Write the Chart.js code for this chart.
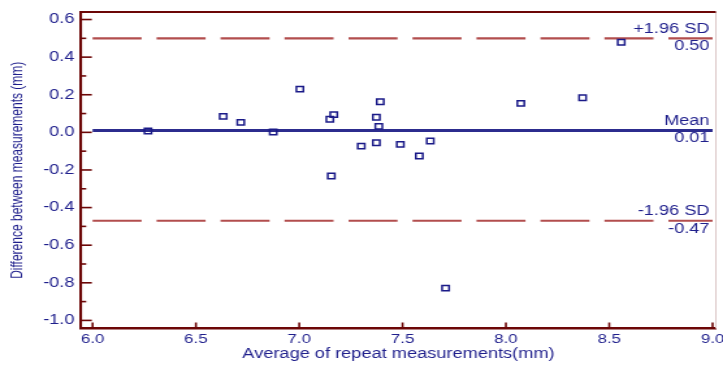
<!DOCTYPE html>
<html>
<head>
<meta charset="utf-8">
<script src="https://cdn.jsdelivr.net/npm/chart.js@4"></script>
<style>
  html, body { margin: 0; padding: 0; background: #fff; overflow: hidden; }
  /* the original picture is stretched sideways, so the chart is drawn narrow and widened */
  #wrap {
    width: 556px;
    height: 365px;
    transform: scaleX(1.3004);
    transform-origin: 0 0;
  }
</style>
</head>
<body>
<div id="wrap"><canvas id="chartBA"></canvas></div>
<script>
/* =========================
   DATA
========================= */

const avgValues = [
  6.268, 6.632, 6.717, 6.874, 7.003, 7.148, 7.167, 7.155, 7.300, 7.373,
  7.373, 7.392, 7.385, 7.489, 7.581, 7.634, 7.708, 8.072, 8.371, 8.558
];

const diffValues = [
  0.007, 0.085, 0.053, 0.002, 0.230, 0.070, 0.094, -0.232, -0.073, 0.080,
  -0.055, 0.163, 0.032, -0.064, -0.126, -0.046, -0.828, 0.154, 0.184, 0.479
];

const limitNames = ['+1.96 SD', 'Mean', '-1.96 SD'];
const limitValues = [0.50, 0.01, -0.47];

const xTicks = [6.0, 6.5, 7.0, 7.5, 8.0, 8.5, 9.0];
const yTicks = [-1.0, -0.8, -0.6, -0.4, -0.2, 0.0, 0.2, 0.4, 0.6];

/* =========================
   COLOURS / FONTS
========================= */

const AXIS = '#6c0606';
const NAVY = '#1f1f8c';
const DASH_RED = '#b24e4e';
const FONT = '"Liberation Sans", Arial, sans-serif';

/* =========================
   TICKS, FRAME, LABELS
========================= */

const baExtras = {
  id: 'baExtras',

  beforeDatasetsDraw(chart) {
    const { ctx, chartArea: a, scales: { x, y } } = chart;

    const seg = (x1, y1, x2, y2) => {
      ctx.beginPath();
      ctx.moveTo(x1, y1);
      ctx.lineTo(x2, y2);
      ctx.stroke();
    };

    ctx.save();

    ctx.strokeStyle = '#dcc8c8';
    ctx.lineWidth = 1;
    seg(a.right, a.top, a.right, a.bottom);

    ctx.strokeStyle = AXIS;
    ctx.lineWidth = 2;
    seg(a.left, a.top, a.right, a.top);

    ctx.lineWidth = 1.6;

    yTicks.forEach((v, i) => {
      const py = y.getPixelForValue(v);
      seg(a.left, py, a.left + 8.3, py);
      if (i < yTicks.length - 1) {
        const pm = y.getPixelForValue((v + yTicks[i + 1]) / 2);
        seg(a.left, pm, a.left + 4, pm);
      }
    });

    xTicks.forEach(v => {
      const px = x.getPixelForValue(v);
      seg(px, a.bottom, px, a.bottom - 6);
    });

    ctx.restore();
  },

  afterDatasetsDraw(chart) {
    const { ctx, scales: { x, y } } = chart;
    const right = x.getPixelForValue(xTicks[xTicks.length - 1]) - 2.3;

    ctx.save();
    ctx.fillStyle = NAVY;
    ctx.font = '14px ' + FONT;
    ctx.textAlign = 'right';
    ctx.textBaseline = 'alphabetic';

    limitValues.forEach((v, i) => {
      const py = y.getPixelForValue(v);
      ctx.fillText(limitNames[i], right, py - 5.5);
      ctx.fillText(v.toFixed(2), right, py + 12);
    });

    ctx.restore();
  }
};

/* =========================
   CHART
========================= */

document.addEventListener('DOMContentLoaded', () => {

  const canvas = document.getElementById('chartBA');

  const limitLine = (v, i) => ({
    type: 'line',
    data: [
      { x: xTicks[0], y: v },
      { x: xTicks[xTicks.length - 1], y: v }
    ],
    borderColor: i === 1 ? '#2c2c8e' : DASH_RED,
    borderWidth: i === 1 ? 2.8 : 2.2,
    borderDash: i === 1 ? [] : [37.7, 11.5],
    pointRadius: 0,
    fill: false
  });

  new Chart(canvas, {

    type: 'scatter',

    data: {
      datasets: [
        {
          data: avgValues.map((v, i) => ({ x: v, y: diffValues[i] })),
          pointStyle: 'rect',
          pointRadius: 3.8,
          borderWidth: 1.5,
          borderColor: '#1a1a88',
          backgroundColor: 'rgba(0,0,0,0)'
        },
        ...limitValues.map(limitLine)
      ]
    },

    plugins: [baExtras],

    options: {
      responsive: true,
      maintainAspectRatio: false,
      animation: false,
      events: [],

      layout: {
        padding: { top: 12, right: 5.3, left: 0, bottom: 0 }
      },

      plugins: {
        legend: { display: false },
        tooltip: { enabled: false }
      },

      scales: {

        x: {
          type: 'linear',
          min: 5.944,
          max: 9.016,
          afterBuildTicks: s => { s.ticks = xTicks.map(v => ({ value: v })); },
          afterFit: s => {
            s.height = 36.5;
            s.paddingLeft = 0;
            s.paddingRight = 0;
          },
          grid: { display: false, drawTicks: false },
          border: { display: true, color: AXIS, width: 2.5 },
          ticks: {
            padding: 3,
            color: NAVY,
            maxRotation: 0,
            autoSkip: false,
            font: { family: FONT, size: 13 },
            callback: v => v.toFixed(1)
          },
          title: {
            display: true,
            text: 'Average of repeat measurements(mm)',
            color: NAVY,
            padding: { top: 0, bottom: 2 },
            font: { family: FONT, size: 14 }
          }
        },

        y: {
          type: 'linear',
          min: -1.043,
          max: 0.64,
          afterBuildTicks: s => { s.ticks = yTicks.map(v => ({ value: v })); },
          afterFit: s => {
            s.width = 62.3;
            s.paddingTop = 0;
            s.paddingBottom = 0;
          },
          grid: { display: false, drawTicks: false },
          border: { display: true, color: AXIS, width: 2.1 },
          ticks: {
            padding: 5,
            color: NAVY,
            autoSkip: false,
            font: { family: FONT, size: 14 },
            callback: v => v.toFixed(1)
          },
          title: {
            display: true,
            text: 'Difference between measurements (mm)',
            color: NAVY,
            padding: { top: 6, bottom: 0 },
            font: { family: FONT, size: 12 }
          }
        }

      }
    }

  });

});
</script>
</body>
</html>
